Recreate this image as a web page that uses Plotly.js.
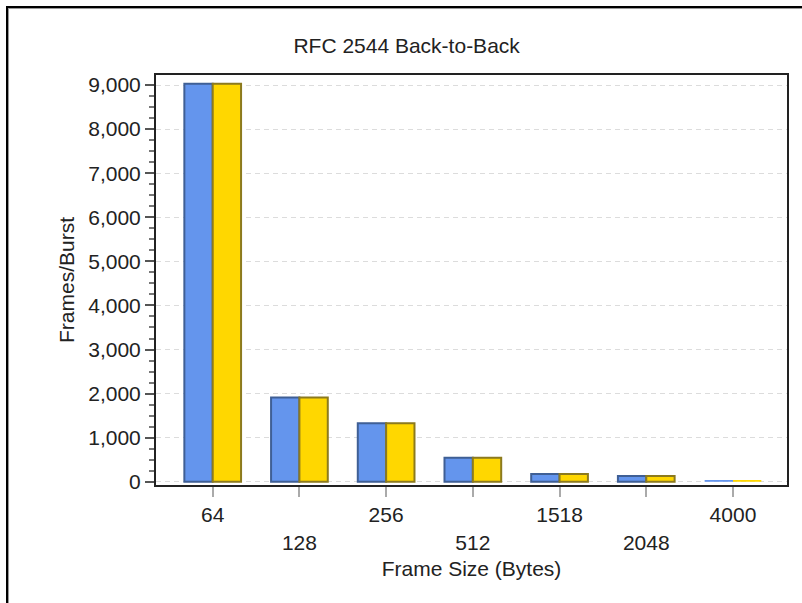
<!DOCTYPE html>
<html>
<head>
<meta charset="utf-8">
<script src="https://cdn.plot.ly/plotly-3.0.1.min.js"></script>
<style>
  html, body { margin: 0; padding: 0; background: #fff; }
  #wrap { position: relative; width: 802px; height: 603px; overflow: hidden; }
  #chart { position: absolute; left: 0; top: 0; width: 802px; height: 603px; }
  #frame { position: absolute; left: 6px; top: 6px; width: 900px; height: 700px;
           border-top: 2px solid #000; border-left: 2px solid #000;
           box-shadow: inset 1px 1px 0 #999; pointer-events: none; }
</style>
</head>
<body>
<div id="wrap">
  <div id="chart"></div>
  <div id="frame"></div>
</div>
<script>
// ---- data ----
const frameSizes = ["64", "128", "256", "512", "1518", "2048", "4000"];
const seriesA = [9030, 1910, 1325, 545, 175, 130, 40];
const seriesB = [9030, 1910, 1325, 545, 175, 130, 40];
const seriesNames = ["Series A", "Series B"];
const chartTitle = "RFC 2544 Back-to-Back";
const xTitle = "Frame Size (Bytes)";
const yTitle = "Frames/Burst";

const xIdx = frameSizes.map((_, i) => i);
const tickText = frameSizes.map((s, i) => (i % 2 === 1 ? "<br>" + s : s));

const FONT = "Liberation Sans, Arial, sans-serif";
// very short bars are drawn without their dark outline, as in the reference
const edge = vals => vals.map(v => (v < 80 ? 0 : 2));

const traces = [
  {
    type: "bar", name: seriesNames[0], x: xIdx, y: seriesA,
    marker: { color: "#6495ED", line: { color: "#3f5f95", width: edge(seriesA) } },
    hoverinfo: "skip"
  },
  {
    type: "bar", name: seriesNames[1], x: xIdx, y: seriesB,
    marker: { color: "#FFD700", line: { color: "#8c7a1e", width: edge(seriesB) } },
    hoverinfo: "skip"
  }
];

const layout = {
  width: 802, height: 603,
  margin: { l: 156, r: 15, t: 75, b: 118, pad: 0 },
  paper_bgcolor: "#fff", plot_bgcolor: "#fff",
  showlegend: false,
  barmode: "group", bargap: 0.346, bargroupgap: 0,
  font: { family: FONT, size: 21, color: "#222" },
  title: {
    text: chartTitle, xref: "container", x: 0.507, xanchor: "center",
    yref: "container", y: 1 - 46 / 603, yanchor: "middle",
    font: { family: FONT, size: 21, color: "#222" }
  },
  xaxis: {
    type: "linear", range: [-0.654, 6.623],
    tickmode: "array", tickvals: xIdx, ticktext: tickText,
    ticks: "outside", ticklen: 10, tickwidth: 2, tickcolor: "#aaa",
    showline: true, mirror: true, linecolor: "#222", linewidth: 2,
    showgrid: false, zeroline: false,
    tickfont: { family: FONT, size: 21, color: "#222" },
    title: { text: xTitle, standoff: 9, font: { family: FONT, size: 21, color: "#222" } },
    automargin: false
  },
  yaxis: {
    range: [-73, 9227], dtick: 1000, tick0: 0, tickformat: ",d",
    ticks: "outside", ticklen: 9, tickwidth: 2, tickcolor: "#555",
    minor: { dtick: 250, ticks: "outside", ticklen: 5, tickwidth: 2, tickcolor: "#777", showgrid: false },
    showline: true, mirror: true, linecolor: "#222", linewidth: 2,
    showgrid: true, gridcolor: "#dcdcdc", gridwidth: 1, griddash: "5px,4px",
    zeroline: false,
    tickfont: { family: FONT, size: 21, color: "#222" },
    title: { text: yTitle, standoff: 8, font: { family: FONT, size: 21, color: "#222" } },
    automargin: false
  }
};

Plotly.newPlot("chart", traces, layout, { displayModeBar: false, staticPlot: true });
</script>
</body>
</html>
